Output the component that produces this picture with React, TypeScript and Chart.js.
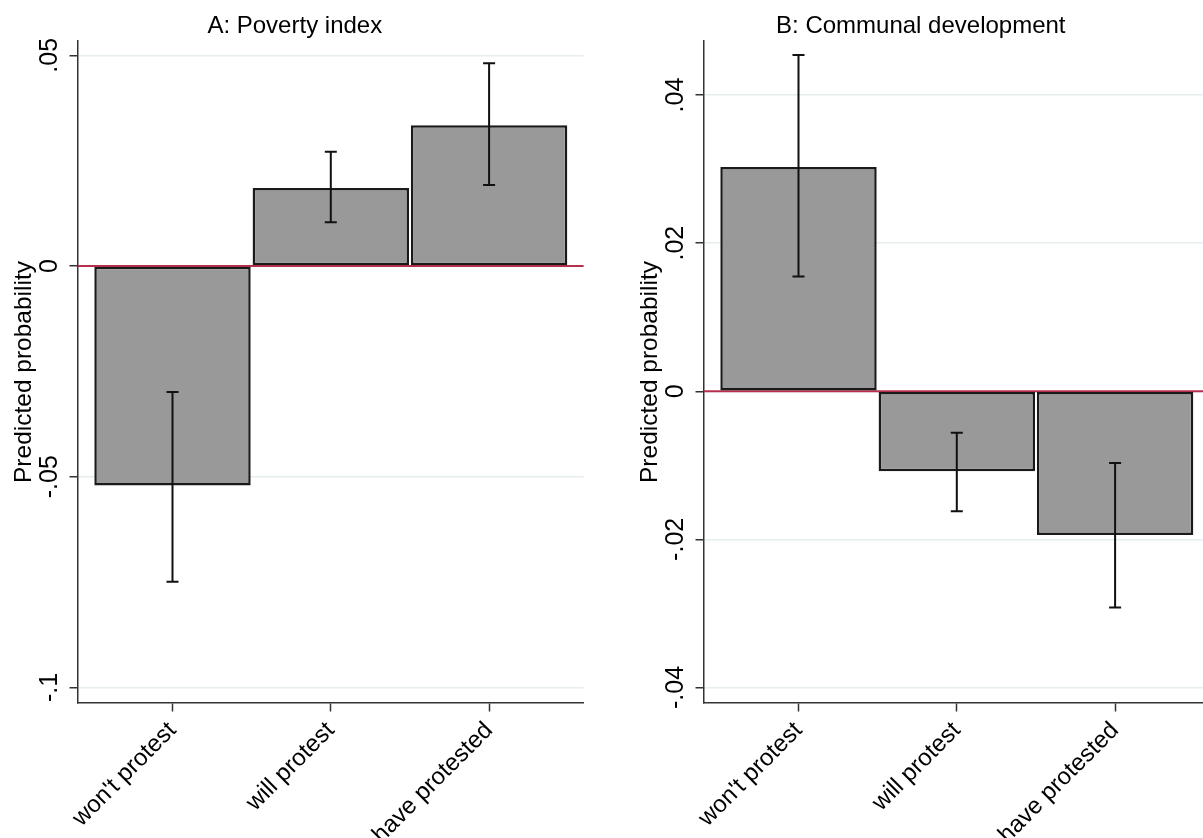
import React, { useEffect, useRef } from 'react';
import { Chart, registerables } from 'chart.js';

Chart.register(...registerables);

const FONT = "'Liberation Sans', Arial, Helvetica, sans-serif";

const categories = ["won't protest", 'will protest', 'have protested'];
const categoryPositions = [1, 2, 3];

const povertyTitle = 'A: Poverty index';
const povertyValues = [-0.0521, 0.0185, 0.0334];
const povertyLow = [-0.0749, 0.0104, 0.0192];
const povertyHigh = [-0.0299, 0.0271, 0.0481];
const povertyTicks = [-0.1, -0.05, 0, 0.05];
const povertyTickLabels = ['-.1', '-.05', '0', '.05'];
const povertyRange = [-0.1037, 0.0534];

const communalTitle = 'B: Communal development';
const communalValues = [0.0303, -0.0108, -0.0194];
const communalLow = [0.0155, -0.0162, -0.0292];
const communalHigh = [0.0454, -0.0056, -0.0097];
const communalTicks = [-0.04, -0.02, 0, 0.02, 0.04];
const communalTickLabels = ['-.04', '-.02', '0', '.02', '.04'];
const communalRange = [-0.0421, 0.0473];

const yAxisTitle = 'Predicted probability';

type Panel = {
  title: string;
  values: number[];
  low: number[];
  high: number[];
  ticks: number[];
  tickLabels: string[];
  range: number[];
  labelOffset: number;
};

function makeConfig(p: Panel): any {
  const zeroLine = {
    id: 'zeroLine',
    beforeDatasetsDraw(chart: any) {
      const { ctx, chartArea, scales } = chart;
      const y = scales.y.getPixelForValue(0);
      ctx.save();
      ctx.strokeStyle = '#b8304f';
      ctx.lineWidth = 2;
      ctx.beginPath();
      ctx.moveTo(chartArea.left, y);
      ctx.lineTo(chartArea.right, y);
      ctx.stroke();
      ctx.restore();
    },
  };
  const errorBars = {
    id: 'errorBars',
    afterDatasetsDraw(chart: any) {
      const { ctx, scales } = chart;
      ctx.save();
      ctx.strokeStyle = '#111111';
      ctx.lineWidth = 2;
      categoryPositions.forEach((pos, i) => {
        const x = scales.x.getPixelForValue(pos);
        const yl = scales.y.getPixelForValue(p.low[i]);
        const yh = scales.y.getPixelForValue(p.high[i]);
        ctx.beginPath();
        ctx.moveTo(x, yl);
        ctx.lineTo(x, yh);
        ctx.moveTo(x - 6, yl);
        ctx.lineTo(x + 6, yl);
        ctx.moveTo(x - 6, yh);
        ctx.lineTo(x + 6, yh);
        ctx.stroke();
      });
      ctx.restore();
    },
  };
  const yLabels = {
    id: 'yLabels',
    afterDraw(chart: any) {
      const { ctx, chartArea, scales } = chart;
      ctx.save();
      ctx.fillStyle = '#000000';
      ctx.font = `25px ${FONT}`;
      ctx.textAlign = 'center';
      ctx.textBaseline = 'alphabetic';
      p.ticks.forEach((v, i) => {
        const y = scales.y.getPixelForValue(v);
        ctx.save();
        ctx.translate(chartArea.left - p.labelOffset, y);
        ctx.rotate(-Math.PI / 2);
        ctx.fillText(p.tickLabels[i], 0, 0);
        ctx.restore();
      });
      ctx.font = `24.5px ${FONT}`;
      ctx.save();
      ctx.translate(chartArea.left - 47, (chartArea.top + chartArea.bottom) / 2);
      ctx.rotate(-Math.PI / 2);
      ctx.fillText(yAxisTitle, 0, 0);
      ctx.restore();
      ctx.restore();
    },
  };

  return {
    type: 'bar',
    data: {
      datasets: [
        {
          data: categoryPositions.map((x, i) => ({ x, y: p.values[i] })),
          backgroundColor: '#999999',
          borderColor: '#1a1a1a',
          borderWidth: 2.5,
          borderSkipped: false,
          categoryPercentage: 1,
          barPercentage: 0.988,
        },
      ],
    },
    options: {
      animation: false,
      responsive: false,
      events: [],
      layout: { padding: { left: 6, right: 16.4, top: 0, bottom: 0 } },
      plugins: {
        legend: { display: false },
        tooltip: { enabled: false },
        title: {
          display: true,
          text: p.title,
          color: '#000000',
          font: { family: FONT, size: 24, weight: 'normal', lineHeight: 1.2 },
          padding: { top: 12, bottom: 0.2 },
        },
      },
      scales: {
        x: {
          type: 'linear',
          offset: false,
          min: 0.403,
          max: 3.597,
          afterBuildTicks: (scale: any) => {
            scale.ticks = categoryPositions.map((v) => ({ value: v }));
          },
          afterFit: (scale: any) => {
            scale.height = 135;
          },
          grid: {
            offset: false,
            drawOnChartArea: false,
            drawTicks: true,
            tickLength: 8.5,
            tickColor: '#333333',
            tickWidth: 1.5,
          },
          border: { display: true, color: '#333333', width: 1.5 },
          ticks: {
            autoSkip: false,
            minRotation: 45,
            maxRotation: 45,
            padding: 5,
            color: '#000000',
            font: { family: FONT, size: 24 },
            callback: (value: number) => {
              const idx = categoryPositions.indexOf(value);
              return idx >= 0 ? categories[idx] : '';
            },
          },
        },
        y: {
          type: 'linear',
          min: p.range[0],
          max: p.range[1],
          afterBuildTicks: (scale: any) => {
            scale.ticks = p.ticks.map((v) => ({ value: v }));
          },
          afterFit: (scale: any) => {
            scale.width = 72;
          },
          grid: {
            color: '#e6edef',
            lineWidth: 1.5,
            drawTicks: true,
            tickLength: 8.5,
            tickColor: '#333333',
            tickWidth: 1.5,
          },
          border: { display: true, color: '#333333', width: 1.5 },
          ticks: { display: false },
        },
      },
    },
    plugins: [zeroLine, errorBars, yLabels],
  };
}

function PanelChart({ panel, left }: { panel: Panel; left: number }) {
  const ref = useRef<HTMLCanvasElement | null>(null);
  useEffect(() => {
    if (!ref.current) return;
    const chart = new Chart(ref.current, makeConfig(panel));
    return () => chart.destroy();
  }, [panel]);
  return (
    <canvas
      ref={ref}
      width={600}
      height={838}
      style={{ position: 'absolute', left, top: 0, width: 600, height: 838 }}
    />
  );
}

const povertyPanel: Panel = {
  title: povertyTitle,
  values: povertyValues,
  low: povertyLow,
  high: povertyHigh,
  ticks: povertyTicks,
  tickLabels: povertyTickLabels,
  range: povertyRange,
  labelOffset: 21,
};

const communalPanel: Panel = {
  title: communalTitle,
  values: communalValues,
  low: communalLow,
  high: communalHigh,
  ticks: communalTicks,
  tickLabels: communalTickLabels,
  range: communalRange,
  labelOffset: 21,
};

export default function App() {
  return (
    <div
      style={{
        position: 'absolute',
        left: 0,
        top: 0,
        width: 1203,
        height: 838,
        overflow: 'hidden',
        background: '#ffffff',
      }}
    >
      <PanelChart panel={povertyPanel} left={0} />
      <PanelChart panel={communalPanel} left={626} />
    </div>
  );
}
